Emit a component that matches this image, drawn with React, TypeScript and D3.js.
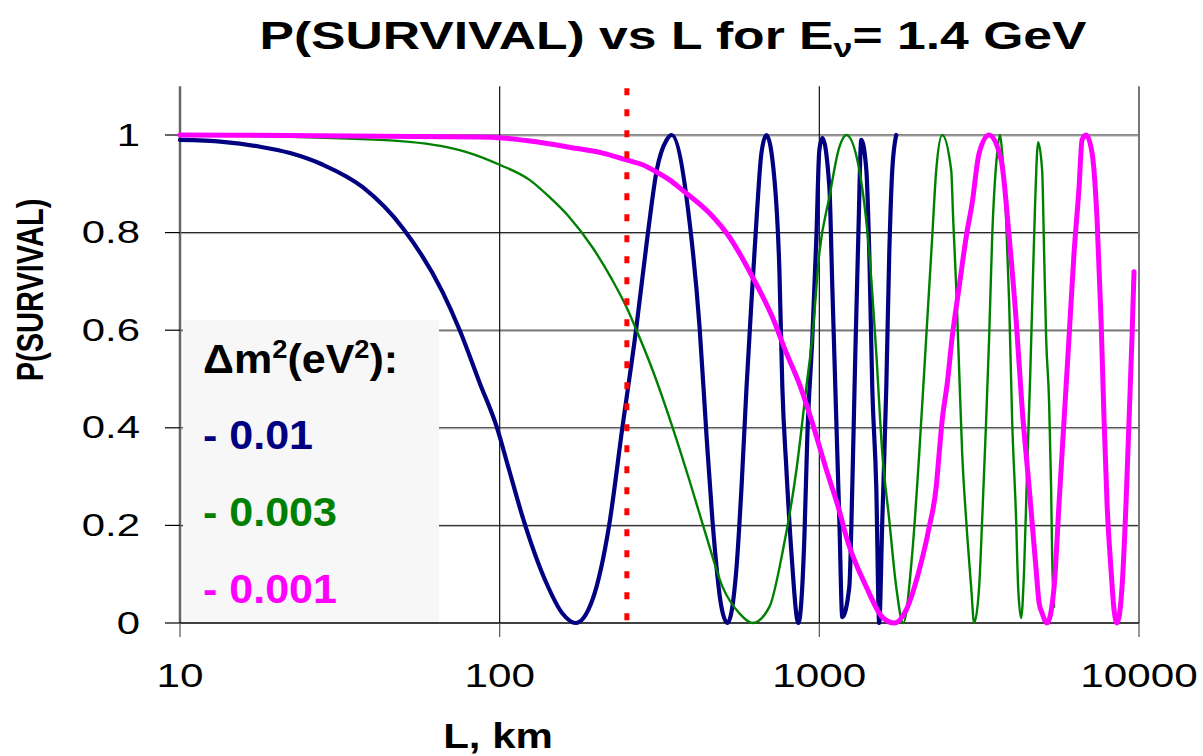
import React from "react";
import * as d3 from "d3";

// ---- data ----
const xTicks = [10, 100, 1000, 10000];
const xTickLabels = ["10", "100", "1000", "10000"];
const yTicks = [0, 0.2, 0.4, 0.6, 0.8, 1];
const yTickLabels = ["0", "0.2", "0.4", "0.6", "0.8", "1"];
const baselineKm = 250;

// dm2 = 0.01 eV^2
const series001: [number, number][] = [
  [10, 0.99], [13.6, 0.986], [17.8, 0.976], [22.1, 0.963], [28, 0.939], [37.3, 0.893],
  [49.8, 0.809], [66.3, 0.678], [75, 0.6], [86.6, 0.492], [97.9, 0.402], [107, 0.314],
  [118, 0.217], [140, 0.082], [157, 0.02], [173, 0], [195, 0.047], [220, 0.2], [242, 0.4],
  [267, 0.6], [291, 0.8], [310, 0.928], [333, 0.99], [345, 1], [392, 0.826], [422, 0.607],
  [444, 0.381], [463, 0.211], [494, 0.033], [516, 0], [550, 0.109], [571, 0.279], [592, 0.484],
  [613, 0.656], [636, 0.826], [659, 0.963], [683, 1], [724, 0.908], [750, 0.723], [766, 0.484],
  [789, 0.314], [818, 0.143], [860, 0], [898, 0.176], [917, 0.381], [951, 0.586], [979, 0.791],
  [1000, 0.969], [1022, 0.994], [1075, 0.893], [1098, 0.689], [1130, 0.416], [1155, 0.211],
  [1180, 0.012], [1241, 0.074], [1268, 0.279], [1296, 0.553], [1324, 0.791], [1353, 0.99],
  [1403, 0.928], [1433, 0.758], [1464, 0.484], [1507, 0.279], [1539, 0], [1574, 0.211],
  [1620, 0.484], [1655, 0.758], [1691, 0.928], [1740, 1],
];

// dm2 = 0.003 eV^2
const series0003: [number, number][] = [
  [10, 1], [42.2, 0.99], [68.3, 0.975], [80.6, 0.963], [100, 0.939], [124, 0.908], [143, 0.873],
  [165, 0.832], [195, 0.77], [225, 0.703], [249, 0.648], [268, 0.6], [301, 0.518], [347, 0.402],
  [392, 0.293], [444, 0.176], [498, 0.074], [562, 0.02], [618, 0], [698, 0.033], [766, 0.143],
  [848, 0.314], [911, 0.484], [951, 0.586], [1000, 0.758], [1075, 0.873], [1155, 0.975],
  [1215, 1], [1334, 0.928], [1433, 0.758], [1507, 0.553], [1574, 0.348], [1655, 0.211],
  [1740, 0.074], [1830, 0], [1953, 0.143], [2054, 0.348], [2160, 0.586], [2255, 0.791],
  [2321, 0.928], [2423, 1], [2585, 0.928], [2623, 0.826], [2680, 0.689], [2738, 0.518],
  [2798, 0.348], [2880, 0.211], [2985, 0.074], [3050, 0], [3162, 0.074], [3231, 0.211],
  [3326, 0.416], [3398, 0.586], [3473, 0.791], [3600, 0.963], [3678, 1], [3732, 0.963],
  [3841, 0.826], [3925, 0.656], [4010, 0.416], [4127, 0.211], [4187, 0.074], [4278, 0.01],
  [4371, 0.109], [4467, 0.314], [4564, 0.5], [4664, 0.72], [4732, 0.86], [4835, 0.985],
  [4977, 0.928], [5049, 0.758], [5122, 0.586], [5234, 0.451], [5309, 0.279], [5348, 0.143],
  [5425, 0.033],
];

// dm2 = 0.001 eV^2
const series0001: [number, number][] = [
  [10, 1], [86.6, 0.996], [102, 0.994], [130, 0.986], [165, 0.975], [210, 0.963], [249, 0.949],
  [280, 0.939], [310, 0.924], [340, 0.908], [373, 0.887], [453, 0.84], [523, 0.791], [618, 0.709],
  [713, 0.627], [789, 0.553], [866, 0.49], [951, 0.41], [1052, 0.314], [1155, 0.23], [1215, 0.176],
  [1403, 0.074], [1574, 0.012], [1716, 0], [1870, 0.027], [2054, 0.109], [2207, 0.197],
  [2321, 0.279], [2371, 0.348], [2423, 0.416], [2512, 0.49], [2604, 0.586], [2738, 0.689],
  [2880, 0.791], [3007, 0.861], [3162, 0.963], [3398, 1], [3705, 0.949], [3925, 0.791],
  [4127, 0.621], [4309, 0.44], [4531, 0.279], [4766, 0.109], [4870, 0.041], [4977, 0.02],
  [5159, 0], [5425, 0.074], [5623, 0.246], [5829, 0.416], [6042, 0.586], [6263, 0.758],
  [6494, 0.893], [6635, 0.99], [6830, 1], [7132, 0.963], [7394, 0.826], [7609, 0.621],
  [7775, 0.416], [7943, 0.246], [8175, 0.109], [8354, 0.027], [8536, 0], [8850, 0.074],
  [9109, 0.246], [9308, 0.416], [9510, 0.586], [9647, 0.72],
];

const legendLabels = ["- 0.01", "- 0.003", "- 0.001"];
const seriesColors = ["#000080", "#008000", "#FF00FF"];
const seriesWidths = [4.2, 2.4, 5];

const FONT = "'Liberation Sans', Arial, Helvetica, sans-serif";

export default function App() {
  const W = 1203;
  const H = 756;
  const left = 180;
  const right = 1139;
  const top = 86.2;
  const bottom = 623;

  const x = d3.scaleLog().domain([10, 10000]).range([left, right]);
  const y = d3.scaleLinear().domain([0, 1.1]).range([bottom, top]);

  const line = d3
    .line<[number, number]>()
    .x((d) => x(d[0]))
    .y((d) => y(d[1]))
    .curve(d3.curveMonotoneX);

  const allSeries = [series001, series0003, series0001];
  const drawOrder = [0, 1, 2];

  return (
    <svg
      width={W}
      height={H}
      viewBox={`0 0 ${W} ${H}`}
      style={{ position: "absolute", left: 0, top: 0, background: "#fff" }}
      fontFamily={FONT}
    >
      <rect x={0} y={0} width={W} height={H} fill="#fff" />

      {/* title */}
      <text
        transform={`translate(673,49) scale(1.36,1)`}
        textAnchor="middle"
        fontSize={38}
        fontWeight="bold"
        fill="#000"
      >
        <tspan>P(SURVIVAL) vs L for E</tspan>
        <tspan fontSize={25} dy={8}>ν</tspan>
        <tspan dy={-8}>= 1.4 GeV</tspan>
      </text>

      {/* horizontal gridlines */}
      {yTicks.filter((t) => t > 0).map((t) => (
        <g key={"hg" + t}>
          <line x1={left} x2={right} y1={y(t)} y2={y(t)} stroke="#111" strokeWidth={1} />
          <line x1={left} x2={right} y1={y(t) + 1} y2={y(t) + 1} stroke="#aaa" strokeWidth={1} />
        </g>
      ))}
      {/* vertical gridlines */}
      {xTicks.slice(1, 3).map((t) => (
        <line key={"vg" + t} x1={x(t)} x2={x(t)} y1={top} y2={bottom} stroke="#111" strokeWidth={1.2} />
      ))}
      <line x1={x(10000)} x2={x(10000)} y1={top} y2={bottom} stroke="#777" strokeWidth={2} />

      {/* legend box */}
      <rect x={183} y={320} width={256} height={bottom - 320 - 1} fill="#f7f7f7" />

      {/* axes */}
      <line x1={left} x2={left} y1={top} y2={bottom} stroke="#666" strokeWidth={2.5} />
      <line x1={left} x2={right} y1={bottom} y2={bottom} stroke="#000" strokeWidth={1.5} />
      {yTicks.map((t) => (
        <line key={"yt" + t} x1={165} x2={left} y1={y(t)} y2={y(t)} stroke="#000" strokeWidth={1.2} />
      ))}
      {xTicks.map((t) => (
        <line key={"xt" + t} x1={x(t)} x2={x(t)} y1={bottom} y2={bottom + 14} stroke="#555" strokeWidth={1.2} />
      ))}

      {/* tick labels */}
      {yTicks.map((t, i) => (
        <text
          key={"yl" + t}
          transform={`translate(140,${y(t) + 10.5}) scale(1.35,1)`}
          textAnchor="end"
          fontSize={31}
          fill="#000"
        >
          {yTickLabels[i]}
        </text>
      ))}
      {xTicks.map((t, i) => (
        <text
          key={"xl" + t}
          transform={`translate(${x(t)},687) scale(1.28,1)`}
          textAnchor="middle"
          fontSize={33}
          fill="#000"
        >
          {xTickLabels[i]}
        </text>
      ))}

      {/* axis titles */}
      <text
        transform={`translate(43,290) scale(1.3,1) rotate(-90)`}
        textAnchor="middle"
        fontSize={29}
        fontWeight="bold"
        fill="#000"
      >
        P(SURVIVAL)
      </text>
      <text
        transform={`translate(498,748) scale(1.2,1)`}
        textAnchor="middle"
        fontSize={35}
        fontWeight="bold"
        fill="#000"
      >
        L, km
      </text>

      {/* curves */}
      {drawOrder.map((i) => (
        <path
          key={"s" + i}
          d={line(allSeries[i]) || ""}
          fill="none"
          stroke={seriesColors[i]}
          strokeWidth={seriesWidths[i]}
          strokeLinejoin="round"
          strokeLinecap="round"
        />
      ))}

      {/* baseline marker */}
      <line
        x1={x(baselineKm)}
        x2={x(baselineKm)}
        y1={top + 2}
        y2={bottom}
        stroke="#FF0000"
        strokeWidth={5}
        strokeDasharray="7 14"
      />

      {/* legend text */}
      <g transform="translate(203,0)">
        <text transform="translate(0,373) scale(1.05,1)" fontSize={41} fontWeight="bold" fill="#000">
          <tspan>Δm</tspan>
          <tspan fontSize={26} dy={-15}>2</tspan>
          <tspan dy={15}>(eV</tspan>
          <tspan fontSize={26} dy={-15}>2</tspan>
          <tspan dy={15}>):</tspan>
        </text>
        {legendLabels.map((lab, i) => (
          <text
            key={"lg" + i}
            transform={`translate(0,${449 + i * 77}) scale(1.05,1)`}
            fontSize={41}
            fontWeight="bold"
            fill={seriesColors[i]}
          >
            {lab}
          </text>
        ))}
      </g>
    </svg>
  );
}
